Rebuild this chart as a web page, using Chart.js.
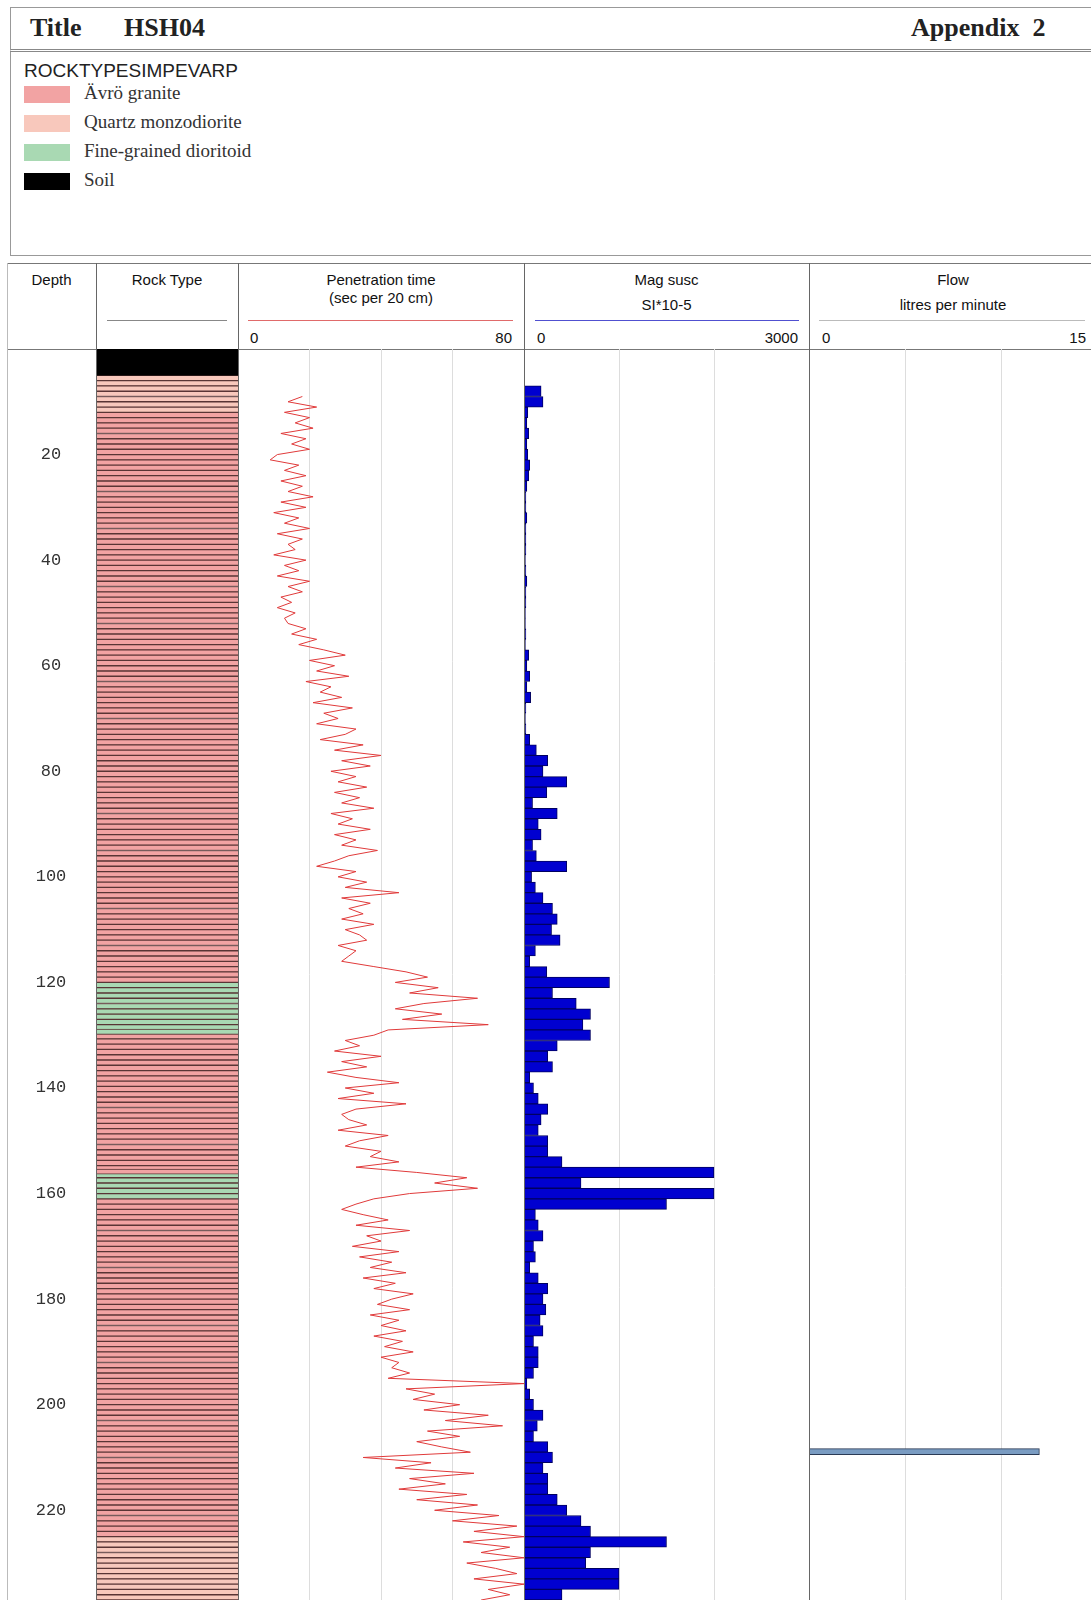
<!DOCTYPE html>
<html>
<head>
<meta charset="utf-8">
<script src="https://cdn.jsdelivr.net/npm/chart.js@4"></script>
<style>
body{margin:0;width:1091px;height:1600px;overflow:hidden;background:#fff;position:relative;font-family:Arial,"Liberation Sans",sans-serif;}
.abs{position:absolute;}
.ser{font-family:"Liberation Serif",serif;}
.vl{position:absolute;width:1px;background:#666;}
.hl{position:absolute;height:1px;}
.t{position:absolute;font-size:15px;color:#111;white-space:nowrap;}
canvas{position:absolute;}
</style>
</head>
<body>
<!-- title box -->
<div class="abs" style="left:10px;top:7px;width:1090px;height:41px;border:1px solid #999;border-bottom:3px double #888;"></div>
<div class="abs ser" style="left:30px;top:13px;font-size:26px;font-weight:bold;color:#222">Title</div>
<div class="abs ser" style="left:124px;top:13px;font-size:26px;font-weight:bold;color:#222">HSH04</div>
<div class="abs ser" style="left:911px;top:13px;font-size:26px;font-weight:bold;color:#222">Appendix&nbsp;&nbsp;2</div>
<!-- legend box -->
<div class="abs" style="left:10px;top:52px;width:1090px;height:203px;border:1px solid #999;border-top:none;"></div>
<div class="abs" style="left:24px;top:60px;font-size:19px;color:#222">ROCKTYPESIMPEVARP</div>
<div id="legend"></div>
<!-- table header -->
<div class="abs" style="left:7px;top:263px;width:1090px;height:85px;border:1px solid #777;"></div>
<div class="t" style="left:7px;width:89px;top:271px;text-align:center">Depth</div>
<div class="t" style="left:96px;width:142px;top:271px;text-align:center">Rock Type</div>
<div class="hl" style="left:107px;width:120px;top:320px;background:#888"></div>
<div class="t" style="left:238px;width:286px;top:271px;text-align:center;line-height:18px">Penetration time<br>(sec per 20 cm)</div>
<div class="hl" style="left:248px;width:265px;top:320px;background:#e06a6a"></div>
<div class="t" style="left:250px;top:329px">0</div>
<div class="t" style="left:480px;width:32px;top:329px;text-align:right">80</div>
<div class="t" style="left:524px;width:285px;top:271px;text-align:center">Mag susc</div>
<div class="t" style="left:524px;width:285px;top:296px;text-align:center">SI*10-5</div>
<div class="hl" style="left:535px;width:264px;top:320px;background:#5050d0"></div>
<div class="t" style="left:537px;top:329px">0</div>
<div class="t" style="left:740px;width:58px;top:329px;text-align:right">3000</div>
<div class="t" style="left:809px;width:288px;top:271px;text-align:center">Flow</div>
<div class="t" style="left:809px;width:288px;top:296px;text-align:center">litres per minute</div>
<div class="hl" style="left:819px;width:266px;top:320px;background:#bbb"></div>
<div class="t" style="left:822px;top:329px">0</div>
<div class="t" style="left:1050px;width:36px;top:329px;text-align:right">15</div>

<canvas id="rock" style="left:7px;top:349px"></canvas>
<canvas id="pen" style="left:238px;top:349px"></canvas>
<canvas id="mag" style="left:524px;top:349px"></canvas>
<canvas id="flow" style="left:809px;top:349px"></canvas>

<div class="vl" style="left:7px;top:263px;height:1337px;background:#bbb"></div>
<div class="vl" style="left:96px;top:263px;height:1337px"></div>
<div class="vl" style="left:238px;top:263px;height:1337px"></div>
<div class="vl" style="left:524px;top:263px;height:1337px"></div>
<div class="vl" style="left:809px;top:263px;height:1337px"></div>

<script>
// depth range of the log (m)
const DEPTH_MIN = 0, DEPTH_MAX = 237;
const PLOT_H = 1251;
const PX_PER_M = PLOT_H / (DEPTH_MAX - DEPTH_MIN);
const depthTicks = [20, 40, 60, 80, 100, 120, 140, 160, 180, 200, 220];

// rock types
const rockNames = ['Ävrö granite', 'Quartz monzodiorite', 'Fine-grained dioritoid', 'Soil'];
const rockColors = ['#f2a3a3', '#f8c8bc', '#a9d9b3', '#000000'];
const rockTop = [0, 5, 12, 120, 129.7, 156, 161, 225];
const rockBottom = [5, 12, 120, 129.7, 156, 161, 225, 237];
const rockType = [3, 1, 0, 2, 0, 2, 0, 1];

// penetration time, sec per 20 cm, one reading per metre from 9 m
const penStart = 9;
const penValues = [
  18,14,22,13,20,16,21,12,19,15,20,
  11,9,17,13,19,12,18,14,21,
  12,19,10,17,13,20,11,18,14,16,
  10,19,13,17,11,20,14,18,12,15,
  11,16,13,14,19,15,22,17,24,30,
  20,27,22,31,19,26,23,29,21,32,
  24,28,22,33,30,23,35,27,40,
  29,37,26,33,28,36,27,34,29,38,
  26,32,28,37,27,33,29,39,31,27,
  22,33,28,36,30,45,29,37,31,35,
  29,38,30,34,36,28,33,31,29,
  38,47,53,44,56,48,67,52,44,57,
  46,70,42,38,30,34,27,40,29,36,
  25,33,45,30,38,28,47,33,29,
  31,36,28,42,34,30,40,37,45,33,
  50,64,55,67,48,38,33,29,35,42,
  33,48,36,40,32,45,34,43,37,47,
  35,44,38,49,43,39,48,37,45,
  40,47,38,46,41,49,40,45,43,48,
  42,80,47,55,49,62,52,70,58,74,
  53,62,50,57,65,35,54,44,66,48,
  58,45,64,50,67,55,73,60,78,66,
  80,63,76,68,80,64,72,
  78,66,80,70,76,68
];

// magnetic susceptibility SI*10-5, 2 m intervals centred from 8 m
const magStart = 8, magStep = 2;
const magValues = [
  180,200,40,30,50,30,40,60,50,30,
  20,20,30,20,20,20,15,20,30,20,
  20,15,15,20,15,50,30,60,30,70,
  20,15,20,60,130,250,200,450,240,90,
  350,150,180,90,130,450,80,120,200,300,
  350,290,380,120,60,240,
  900,300,550,700,620,700,350,250,300,60,
  100,150,250,180,150,250,250,400,2000,600,
  2000,1500,120,150,200,100,120,60,150,250,
  200,230,170,200,100,150,150,100,30,60,
  100,200,140,100,250,300,200,250,250,350,
  450,600,700,1500,700,650,1000,1000,400
];

// flow, litres per minute
const flowDepth = [208.9];
const flowValues = [12];

// legend
const legend = document.getElementById('legend');
rockNames.forEach((n, i) => {
  const y = 86 + i * 29;
  legend.insertAdjacentHTML('beforeend',
    '<div class="abs" style="left:24px;top:' + y + 'px;width:46px;height:17px;background:' + rockColors[i] + '"></div>' +
    '<div class="abs ser" style="left:84px;top:' + (y - 4) + 'px;font-size:19px;color:#333">' + n + '</div>');
});

function depthScale() {
  return { type: 'linear', min: DEPTH_MIN, max: DEPTH_MAX, reverse: true, offset: false, display: false };
}
function valueScale(min, max, step) {
  return {
    type: 'linear', min: min, max: max, position: 'bottom',
    grid: { color: '#dddddd', drawTicks: false, lineWidth: c => (c.tick.value <= 0 || c.tick.value >= max ? 0 : 1) },
    border: { display: false },
    ticks: { display: false, stepSize: step },
    afterFit: s => { s.height = 0; }
  };
}
const common = {
  responsive: false, animation: false, events: [],
  layout: { padding: 0 },
  plugins: { legend: { display: false }, tooltip: { enabled: false } }
};
function setSize(id, w) {
  const c = document.getElementById(id);
  c.width = w; c.height = PLOT_H;
  c.style.width = w + 'px'; c.style.height = PLOT_H + 'px';
  return c;
}

// depth labels drawn from the depth scale, in the left part of the rock canvas
const depthLabels = {
  id: 'depthLabels',
  afterDraw(chart) {
    const ctx = chart.ctx, ys = chart.scales.y;
    ctx.save();
    ctx.font = '17px "Liberation Mono", monospace';
    ctx.fillStyle = '#333';
    ctx.textAlign = 'center';
    ctx.textBaseline = 'middle';
    depthTicks.forEach(d => ctx.fillText(String(d), 44, ys.getPixelForValue(d)));
    ctx.restore();
  }
};

// rock type column, 1 m hatched segments
const rockSets = [];
rockType.forEach((t, k) => {
  const pts = [];
  const seg = t === 3 ? rockBottom[k] - rockTop[k] : 1;
  for (let d = rockTop[k]; d < rockBottom[k] - 0.01; d += seg) {
    const b = Math.min(d + seg, rockBottom[k]);
    pts.push({ y: (d + b) / 2, x: [0, 1] });
  }
  rockSets.push({
    data: pts, backgroundColor: rockColors[t],
    borderColor: t === 3 ? '#000' : '#5a3535', borderWidth: { top: 1, bottom: 1 },
    borderSkipped: false, barThickness: t === 3 ? seg * PX_PER_M : PX_PER_M
  });
});
// canvas 231 px wide: 89 px depth column + 142 px rock column
new Chart(setSize('rock', 231), {
  type: 'bar',
  data: { datasets: rockSets },
  options: Object.assign({}, common, {
    indexAxis: 'y', grouped: false,
    scales: {
      y: depthScale(),
      x: { type: 'linear', min: -89 / 142, max: 1, display: false }
    }
  }),
  plugins: [depthLabels]
});

// penetration time
new Chart(setSize('pen', 286), {
  type: 'scatter',
  data: { datasets: [{
    data: penValues.map((v, i) => ({ x: v, y: penStart + i })),
    showLine: true, borderColor: '#e03a3a', borderWidth: 1, pointRadius: 0, tension: 0
  }] },
  options: Object.assign({}, common, {
    scales: { y: depthScale(), x: valueScale(0, 80, 20) }
  })
});

// magnetic susceptibility
new Chart(setSize('mag', 285), {
  type: 'bar',
  data: { datasets: [{
    data: magValues.map((v, i) => ({ x: v, y: magStart + i * magStep })),
    backgroundColor: '#0000d0', borderColor: '#000060', borderWidth: 1,
    borderSkipped: false, barThickness: magStep * PX_PER_M
  }] },
  options: Object.assign({}, common, {
    indexAxis: 'y',
    scales: { y: depthScale(), x: valueScale(0, 3000, 1000) }
  })
});

// flow
new Chart(setSize('flow', 288), {
  type: 'bar',
  data: { datasets: [{
    data: flowValues.map((v, i) => ({ x: v, y: flowDepth[i] })),
    backgroundColor: '#7a9cc2', borderColor: '#2a3a55', borderWidth: 1,
    borderSkipped: false, barThickness: 6
  }] },
  options: Object.assign({}, common, {
    indexAxis: 'y',
    scales: { y: depthScale(), x: valueScale(0, 15, 5) }
  })
});
</script>
</body>
</html>
